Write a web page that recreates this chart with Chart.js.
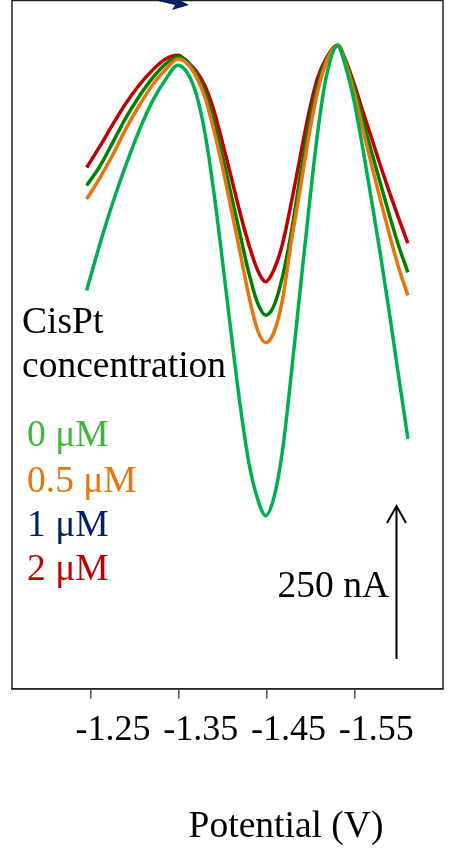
<!DOCTYPE html>
<html>
<head>
<meta charset="utf-8">
<title>CisPt voltammograms</title>
<script src="https://cdn.jsdelivr.net/npm/chart.js@4/dist/chart.umd.min.js"></script>
<style>
    html, body { margin: 0; padding: 0; background: #fff; }
    #wrap { width: 452px; height: 851px; }
</style>
</head>
<body>
<div id="wrap"><canvas id="dpvChart" width="452" height="851"></canvas></div>
<script>
// Potential (V) of each sampled point
const potentials = [-1.245, -1.26, -1.275, -1.29, -1.305, -1.32, -1.335, -1.349, -1.36, -1.37,
    -1.38, -1.39, -1.40, -1.41, -1.42, -1.43, -1.44, -1.449, -1.458, -1.468, -1.478, -1.488,
    -1.498, -1.508, -1.518, -1.531, -1.54, -1.55, -1.56, -1.57, -1.58, -1.59, -1.60, -1.611];

// Current (nA, arbitrary offset)
const current0uM = [642, 716, 784, 845, 900, 947, 982, 1005, 992, 958,
    894, 800, 687, 569, 456, 363, 305, 279, 306, 382, 505, 639,
    771, 894, 986, 1036, 1003, 945, 868, 784, 697, 605, 508, 403];
const current05uM = [789, 823, 861, 903, 940, 973, 998, 1015, 1007, 986,
    952, 900, 839, 771, 702, 632, 577, 558, 573, 626, 719, 803,
    889, 961, 1010, 1036, 1008, 960, 900, 842, 786, 732, 681, 634];
const current1uM = [811, 842, 881, 921, 955, 984, 1007, 1018, 1011, 990,
    961, 913, 857, 794, 731, 669, 621, 602, 616, 663, 734, 823,
    907, 971, 1013, 1037, 1011, 968, 915, 863, 813, 763, 716, 671];
const current2uM = [840, 874, 910, 944, 973, 997, 1015, 1021, 1010, 995,
    971, 932, 879, 823, 766, 715, 674, 656, 674, 716, 782, 855,
    927, 984, 1016, 1037, 1013, 974, 929, 886, 842, 800, 760, 718];

const tickValues = [-1.25, -1.35, -1.45, -1.55];
const legendTitle = ['CisPt', 'concentration'];
const legendLabels = ['0 \u03bcM', '0.5 \u03bcM', '1 \u03bcM', '2 \u03bcM'];
const scaleBarLabel = '250 nA';
const axisTitle = 'Potential (V)';

(function() {
    'use strict';

    const FONT = '"Liberation Serif", "Times New Roman", serif';
    const lineColors = ['#00B050', '#E8740E', '#008000', '#C00000'];
    const legendColors = ['#3DB83D', '#E8740E', '#002060', '#C00000'];

    function series(values) {
        return potentials.map((p, i) => ({ x: p, y: values[i] }));
    }

    // Text, frame and arrows drawn on top of the chart
    const decorations = {
        id: 'decorations',
        afterDraw(chart) {
            const ctx = chart.ctx;
            const area = chart.chartArea;
            ctx.save();

            // frame round the plot
            ctx.strokeStyle = '#222';
            ctx.lineWidth = 1.5;
            ctx.strokeRect(area.left, area.top + 0.5, area.right - area.left, area.bottom - area.top - 0.5);

            ctx.font = '37.5px ' + FONT;
            ctx.textBaseline = 'alphabetic';
            ctx.textAlign = 'left';
            ctx.fillStyle = '#000';
            ctx.fillText(legendTitle[0], 22, 333);
            ctx.fillText(legendTitle[1], 22, 377);

            const legendY = [446, 492, 536, 580];
            legendLabels.forEach((label, i) => {
                ctx.fillStyle = legendColors[i];
                ctx.fillText(label, 27, legendY[i]);
            });

            // scale bar
            ctx.fillStyle = '#000';
            ctx.textAlign = 'right';
            ctx.fillText(scaleBarLabel, 389, 597);
            ctx.strokeStyle = '#000';
            ctx.lineWidth = 2;
            ctx.beginPath();
            ctx.moveTo(396.5, 659);
            ctx.lineTo(396.5, 506);
            ctx.moveTo(387, 523);
            ctx.lineTo(396.5, 506);
            ctx.lineTo(406, 523);
            ctx.stroke();

            // axis title
            ctx.textAlign = 'center';
            ctx.fillText(axisTitle, 286, 837);

            // navy arrow cut off by the top edge
            ctx.fillStyle = '#002060';
            ctx.beginPath();
            ctx.moveTo(158, -3);
            ctx.lineTo(174, 1);
            ctx.lineTo(172, -4);
            ctx.lineTo(189, 5);
            ctx.lineTo(172, 10);
            ctx.lineTo(175, 5);
            ctx.lineTo(158, 1);
            ctx.closePath();
            ctx.fill();

            ctx.restore();
        }
    };

    const ctx = document.getElementById('dpvChart').getContext('2d');
    new Chart(ctx, {
        type: 'line',
        data: {
            datasets: [
                { data: series(current0uM), borderColor: lineColors[0] },
                { data: series(current05uM), borderColor: lineColors[1] },
                { data: series(current1uM), borderColor: lineColors[2] },
                { data: series(current2uM), borderColor: lineColors[3] }
            ].map(ds => Object.assign(ds, {
                borderWidth: 3.5,
                pointRadius: 0,
                fill: false,
                cubicInterpolationMode: 'monotone'
            }))
        },
        options: {
            responsive: false,
            devicePixelRatio: 1,
            animation: false,
            layout: { padding: { left: 12, right: 9, top: 0, bottom: 89 } },
            plugins: {
                legend: { display: false },
                tooltip: { enabled: false }
            },
            scales: {
                x: {
                    type: 'linear',
                    reverse: true,
                    min: -1.651,
                    max: -1.16,
                    afterBuildTicks(scale) {
                        scale.ticks = tickValues.map(v => ({ value: v }));
                    },
                    grid: { drawOnChartArea: false, tickLength: 10, color: '#555', lineWidth: 1.5 },
                    border: { display: true, color: '#222', width: 1.5 },
                    ticks: {
                        autoSkip: false,
                        maxRotation: 0,
                        padding: 10,
                        labelOffset: 22,
                        color: '#000',
                        font: { family: FONT, size: 36 },
                        callback: v => v.toFixed(2)
                    }
                },
                y: {
                    display: false,
                    min: 0,
                    max: 1110
                }
            }
        },
        plugins: [decorations]
    });
})();
</script>
</body>
</html>
